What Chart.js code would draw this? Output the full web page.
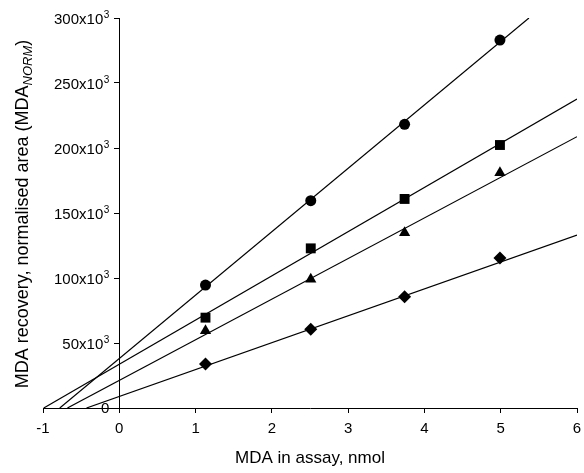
<!DOCTYPE html>
<html>
<head>
<meta charset="utf-8">
<script src="https://cdn.jsdelivr.net/npm/chart.js@4/dist/chart.umd.min.js"></script>
<style>
  html, body { margin: 0; padding: 0; background: #fff; }
  #chart { display: block; }
</style>
</head>
<body>
<canvas id="chart" width="584" height="473"></canvas>
<script>
// MDA amounts in assay (nmol)
const doses = [1.13, 2.51, 3.74, 4.99];

// normalised area per series
const circleVals = [94600, 159500, 218200, 283000];
const squareVals = [69500, 122800, 160800, 202300];
const triangleVals = [59500, 99000, 134900, 181000];
const diamondVals = [33800, 60500, 85600, 115400];

// regression line ends
const circleFit = [[-0.78, 0], [5.37, 300000]];
const squareFit = [[-0.99, 0], [6, 237700]];
const triangleFit = [[-0.68, 0], [6, 208700]];
const diamondFit = [[-0.43, 0], [6, 133000]];

const xTicks = [-1, 0, 1, 2, 3, 4, 5, 6];
const yTicks = [0, 50000, 100000, 150000, 200000, 250000, 300000];

const FONT = "'Liberation Sans', Arial, sans-serif";

function toPoints(xs, ys) {
    return xs.map((x, i) => ({ x: x, y: ys[i] }));
}

function fitSet(ends) {
    return {
        type: 'line',
        data: ends.map(p => ({ x: p[0], y: p[1] })),
        borderColor: '#000',
        borderWidth: 1.2,
        pointRadius: 0,
        fill: false,
        order: 2
    };
}

function markerSet(vals, style, r) {
    return {
        type: 'scatter',
        data: toPoints(doses, vals),
        pointStyle: style,
        pointRadius: r,
        pointHoverRadius: r,
        backgroundColor: '#000',
        borderColor: '#000',
        borderWidth: 0,
        order: 1
    };
}

// y tick labels (with superscript) and y title (with subscript)
const yTextPlugin = {
    id: 'yText',
    afterDraw(chart) {
        const ctx = chart.ctx;
        const ys = chart.scales.y;
        const axisX = chart.scales.x.getPixelForValue(0);
        ctx.save();
        ctx.fillStyle = '#000';

        // tick labels
        ys.ticks.forEach(t => {
            const py = ys.getPixelForValue(t.value);
            let right = axisX - 10;
            ctx.textAlign = 'right';
            ctx.textBaseline = 'alphabetic';
            if (t.value === 0) {
                ctx.font = '15px ' + FONT;
                ctx.fillText('0', right, py + 5);
                return;
            }
            ctx.font = '10px ' + FONT;
            ctx.fillText('3', right, py + 0);
            right -= ctx.measureText('3').width + 0.5;
            ctx.font = '15px ' + FONT;
            ctx.fillText((t.value / 1000) + 'x10', right, py + 6);
        });

        // axis title
        const main = 'MDA recovery, normalised area (MDA';
        const sub = 'NORM';
        const tail = ')';
        ctx.textAlign = 'left';
        ctx.textBaseline = 'alphabetic';
        ctx.font = '18px ' + FONT;
        const wMain = ctx.measureText(main).width;
        const wTail = ctx.measureText(tail).width;
        ctx.font = 'italic 13px ' + FONT;
        const wSub = ctx.measureText(sub).width;
        const total = wMain + wSub + wTail;
        ctx.translate(28, 214);
        ctx.rotate(-Math.PI / 2);
        let x = -total / 2;
        ctx.font = '18px ' + FONT;
        ctx.fillText(main, x, 0);
        x += wMain;
        ctx.font = 'italic 13px ' + FONT;
        ctx.fillText(sub, x, 4);
        x += wSub;
        ctx.font = '18px ' + FONT;
        ctx.fillText(tail, x, 0);
        ctx.restore();
    }
};

new Chart(document.getElementById('chart'), {
    data: {
        datasets: [
            fitSet(circleFit),
            fitSet(squareFit),
            fitSet(triangleFit),
            fitSet(diamondFit),
            markerSet(circleVals, 'circle', 5.5),
            markerSet(squareVals, 'rect', 7),
            markerSet(triangleVals, 'triangle', 6.5),
            markerSet(diamondVals, 'rectRot', 6.5)
        ]
    },
    options: {
        responsive: false,
        animation: false,
        devicePixelRatio: 1,
        layout: { padding: { left: 43, right: 3, top: 18, bottom: 0 } },
        plugins: {
            legend: { display: false },
            tooltip: { enabled: false }
        },
        scales: {
            x: {
                type: 'linear',
                position: 'bottom',
                min: -1,
                max: 6,
                afterBuildTicks: s => { s.ticks = xTicks.map(v => ({ value: v })); },
                afterFit: s => { s.height = 65; s.paddingLeft = 0; s.paddingRight = 0; },
                grid: { drawOnChartArea: false, drawTicks: true, tickLength: 5, color: '#000' },
                border: { display: true, color: '#000', width: 1 },
                ticks: {
                    color: '#000',
                    font: { family: FONT, size: 15 },
                    padding: 7,
                    maxRotation: 0
                },
                title: {
                    display: true,
                    text: 'MDA in assay, nmol',
                    color: '#000',
                    font: { family: FONT, size: 17 },
                    padding: { top: 7 }
                }
            },
            y: {
                type: 'linear',
                position: { x: 0 },
                min: 0,
                max: 300000,
                afterBuildTicks: s => { s.ticks = yTicks.map(v => ({ value: v })); },
                grid: { drawOnChartArea: false, drawTicks: true, tickLength: 5, color: '#000' },
                border: { display: true, color: '#000', width: 1 },
                ticks: { display: false }
            }
        }
    },
    plugins: [yTextPlugin]
});
</script>
</body>
</html>
